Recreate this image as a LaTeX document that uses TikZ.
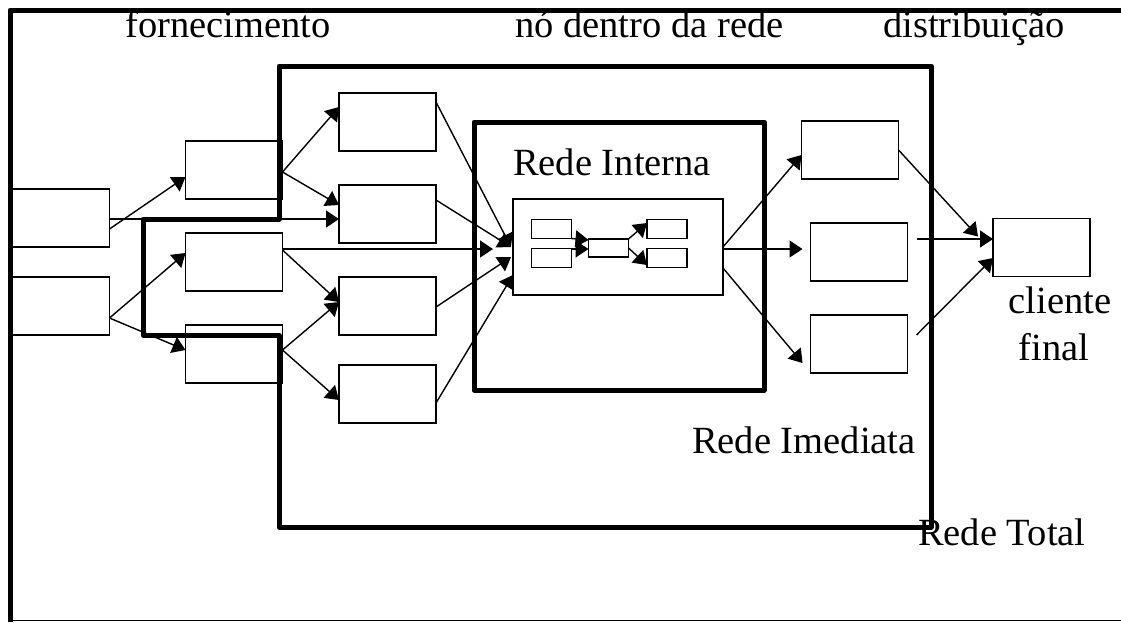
\documentclass[tikz,border=0pt]{standalone}
\usepackage{fontspec}
\setmainfont{Liberation Serif}
\usetikzlibrary{arrows.meta,calc}
\begin{document}
\begin{tikzpicture}[x=1pt,y=-1pt,
  bbox/.style={draw,line width=1.5pt,inner sep=0pt,outer sep=0pt,minimum width=97pt,minimum height=58pt},
  sbox/.style={draw,line width=1.5pt,inner sep=0pt,outer sep=0pt,minimum width=40pt,minimum height=19pt},
  arr/.style={line width=1.4pt,-{Triangle[length=13pt,width=17pt]}},
  heavy/.style={line width=5pt,line join=round},
  lbl/.style={inner sep=0pt,anchor=base west,font=\fontsize{38.5}{46}\selectfont},
  clbl/.style={inner sep=0pt,anchor=base,font=\fontsize{38.5}{46}\selectfont}]
\useasboundingbox (0,0) rectangle (1121,622);

% boxes
\node[bbox] (A1) at (61,218) {};
\node[bbox] (A2) at (61,306) {};
\node[bbox] (B1) at (234,170) {};
\node[bbox] (B2) at (234,262) {};
\node[bbox] (B3) at (234,354) {};
\node[bbox] (C1) at (387.5,122) {};
\node[bbox] (C2) at (387.5,214) {};
\node[bbox] (C3) at (387.5,306) {};
\node[bbox] (C4) at (387.5,394) {};
\node[bbox,minimum width=210pt,minimum height=96pt] (N) at (618,247) {};
\node[sbox] (S1) at (551.5,229) {};
\node[sbox] (S2) at (551.5,258) {};
\node[sbox,minimum height=18pt] (M) at (608.5,248) {};
\node[sbox] (R1) at (667,229) {};
\node[sbox] (R2) at (667,258) {};
\node[bbox] (D1) at (850,150) {};
\node[bbox] (D2) at (859,252) {};
\node[bbox] (D3) at (859,344) {};
\node[bbox] (E) at (1041.5,247.5) {};

% network frames
\draw[heavy] (1121,10) -- (10,10) -- (10,622);
\draw[line width=1.2pt] (10,620.5) -- (1121,620.5);
\draw[heavy] (279,66) -- (931,66) -- (931,527) -- (279,527) -- (279,335)
  -- (143,335) -- (143,219) -- (279,219) -- cycle;
\draw[heavy] (474,122) rectangle (764,390);

% connectors
\draw[arr] ($(A1.east)+(0,11)$) -- ($(B1.west)+(0,7)$);
\draw[arr] ($(A1.east)+(0,1)$) -- ($(C2.west)+(0,5)$);
\draw[arr] ($(A2.east)+(0,12)$) -- ($(B2.west)+(0,-9)$);
\draw[arr] ($(A2.east)+(0,12)$) -- ($(B3.west)+(0,-4)$);
\draw[arr] ($(B1.east)+(0,2)$) -- ($(C1.west)+(0,-15)$);
\draw[arr] ($(B1.east)+(0,2)$) -- ($(C2.west)+(0,-9)$);
\draw[arr] ($(B2.east)+(0,-13)$) -- ($(N.west)+(-20,2)$);
\draw[arr] ($(B2.east)+(0,-12)$) -- ($(C3.west)+(0,-4)$);
\draw[arr] ($(B3.east)+(0,-4)$) -- ($(C3.west)+(0,-4)$);
\draw[arr] ($(B3.east)+(0,-4)$) -- ($(C4.west)+(0,6)$);
\draw[arr] ($(C1.east)+(0,-20)$) -- ($(N.west)+(-2,0)$);
\draw[arr] ($(C2.east)+(0,-14)$) -- ($(N.west)+(-2,0)$);
\draw[arr] ($(C3.east)+(0,1)$) -- ($(N.west)+(-2,10)$);
\draw[arr] ($(C4.east)+(0,9)$) -- ($(N.west)+(0,28)$);
\draw[arr] (N.east) -- ($(D1.west)+(0,5)$);
\draw[arr] ($(N.east)+(0,2)$) -- ($(D2.west)+(-8,-3)$);
\draw[arr] ($(N.east)+(0,21)$) -- ($(D3.west)+(-8,19)$);
\draw[arr] (D1.east) -- ($(E.west)+(-15,-11)$);
\draw[arr] ($(D2.east)+(9,-13)$) -- ($(E.west)+(0,-8.5)$);
\draw[arr] ($(D3.east)+(9,-9)$) -- ($(E.west)+(0,10.5)$);
\draw[arr] (S1.south east) -- ($(M.west)+(0,-8)$);
\draw[arr] ($(S2.east)+(0,-9)$) -- ($(M.west)+(0,1)$);
\draw[arr] (M.north east) -- ($(R1.west)+(0,-6)$);
\draw[arr] (M.east) -- ($(R2.west)+(0,7)$);

% labels
\node[lbl] (tForn) at (125,37) {fornecimento};
\node[lbl] (tNo) at (515,37) {nó dentro da rede};
\node[lbl] (tDist) at (883,37) {distribuição};
\node[lbl] (tInt) at (513,175) {Rede Interna};
\node[lbl] (tIme) at (692,453) {Rede Imediata};
\node[lbl] (tTot) at (918,545) {Rede Total};
\node[clbl] (tCli) at (1060,313) {cliente};
\node[clbl] (tFin) at (1054,360) {final};
\end{tikzpicture}
\end{document}
